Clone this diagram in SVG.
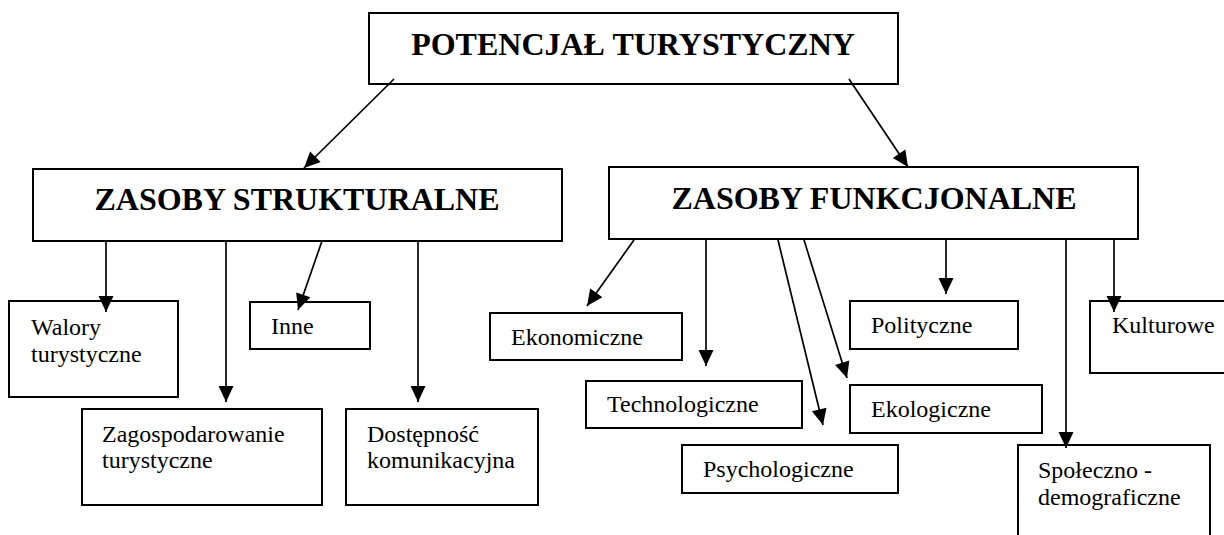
<svg xmlns="http://www.w3.org/2000/svg" width="1224" height="535" viewBox="0 0 1224 535">
<style>
  .box { fill: #ffffff; stroke: #000000; stroke-width: 2; }
  .h { font-family: "Liberation Serif", "Times New Roman", serif; font-weight: bold; font-size: 32px; fill: #000; }
  .t { font-family: "Liberation Serif", "Times New Roman", serif; font-size: 24px; fill: #000; }
  .c { stroke: #000; stroke-width: 1.7; fill: none; marker-end: url(#arr); }
</style>
<defs>
  <marker id="arr" markerUnits="userSpaceOnUse" markerWidth="20" markerHeight="18" refX="16" refY="7.5" orient="auto" overflow="visible">
    <path d="M0,0 L16,7.5 L0,15 z" fill="#000"/>
  </marker>
</defs>
<rect width="1224" height="535" fill="#ffffff"/>

<g id="potencjal">
  <rect class="box" x="369" y="13" width="529" height="71"/>
  <text class="h" x="633" y="55" text-anchor="middle">POTENCJAŁ TURYSTYCZNY</text>
</g>
<g id="strukturalne">
  <rect class="box" x="33" y="169" width="529" height="72"/>
  <text class="h" x="297" y="210" text-anchor="middle">ZASOBY STRUKTURALNE</text>
</g>
<g id="funkcjonalne">
  <rect class="box" x="609" y="167" width="529" height="72"/>
  <text class="h" x="874" y="209" text-anchor="middle">ZASOBY FUNKCJONALNE</text>
</g>

<g id="walory">
  <rect class="box" x="9" y="301" width="169" height="96"/>
  <text class="t" x="31" y="335">Walory</text>
  <text class="t" x="31" y="362">turystyczne</text>
</g>
<g id="inne">
  <rect class="box" x="250" y="302" width="120" height="47"/>
  <text class="t" x="271" y="334">Inne</text>
</g>
<g id="zagospodarowanie">
  <rect class="box" x="82" y="409" width="240" height="96"/>
  <text class="t" x="102" y="442">Zagospodarowanie</text>
  <text class="t" x="102" y="468">turystyczne</text>
</g>
<g id="dostepnosc">
  <rect class="box" x="346" y="409" width="192" height="96"/>
  <text class="t" x="367" y="442">Dostępność</text>
  <text class="t" x="367" y="468">komunikacyjna</text>
</g>

<g id="ekonomiczne">
  <rect class="box" x="490" y="313" width="192" height="47"/>
  <text class="t" x="511" y="345">Ekonomiczne</text>
</g>
<g id="technologiczne">
  <rect class="box" x="586" y="381" width="216" height="47"/>
  <text class="t" x="607" y="412">Technologiczne</text>
</g>
<g id="psychologiczne">
  <rect class="box" x="682" y="445" width="216" height="48"/>
  <text class="t" x="703" y="477">Psychologiczne</text>
</g>
<g id="ekologiczne">
  <rect class="box" x="850" y="385" width="192" height="48"/>
  <text class="t" x="871" y="417">Ekologiczne</text>
</g>
<g id="polityczne">
  <rect class="box" x="850" y="301" width="168" height="48"/>
  <text class="t" x="871" y="333">Polityczne</text>
</g>
<g id="kulturowe">
  <rect class="box" x="1090" y="301" width="150" height="72"/>
  <text class="t" x="1112" y="333">Kulturowe</text>
</g>
<g id="spoleczno">
  <rect class="box" x="1018" y="445" width="192" height="100"/>
  <text class="t" x="1038" y="478">Społeczno -</text>
  <text class="t" x="1038" y="505">demograficzne</text>
</g>

<g id="connectors">
  <line class="c" x1="394" y1="79" x2="304" y2="168"/>
  <line class="c" x1="849" y1="79" x2="908" y2="167"/>
  <line class="c" x1="106" y1="241" x2="106" y2="312"/>
  <line class="c" x1="226" y1="241" x2="226" y2="402"/>
  <line class="c" x1="322" y1="241" x2="298" y2="310"/>
  <line class="c" x1="418" y1="241" x2="418" y2="402"/>
  <line class="c" x1="634" y1="240" x2="587" y2="306"/>
  <line class="c" x1="706" y1="240" x2="706" y2="366"/>
  <line class="c" x1="778" y1="240" x2="823" y2="425"/>
  <line class="c" x1="804" y1="240" x2="847" y2="378"/>
  <line class="c" x1="946" y1="240" x2="946" y2="294"/>
  <line class="c" x1="1066" y1="240" x2="1066" y2="448"/>
  <line class="c" x1="1114" y1="240" x2="1114" y2="312"/>
</g>
</svg>
